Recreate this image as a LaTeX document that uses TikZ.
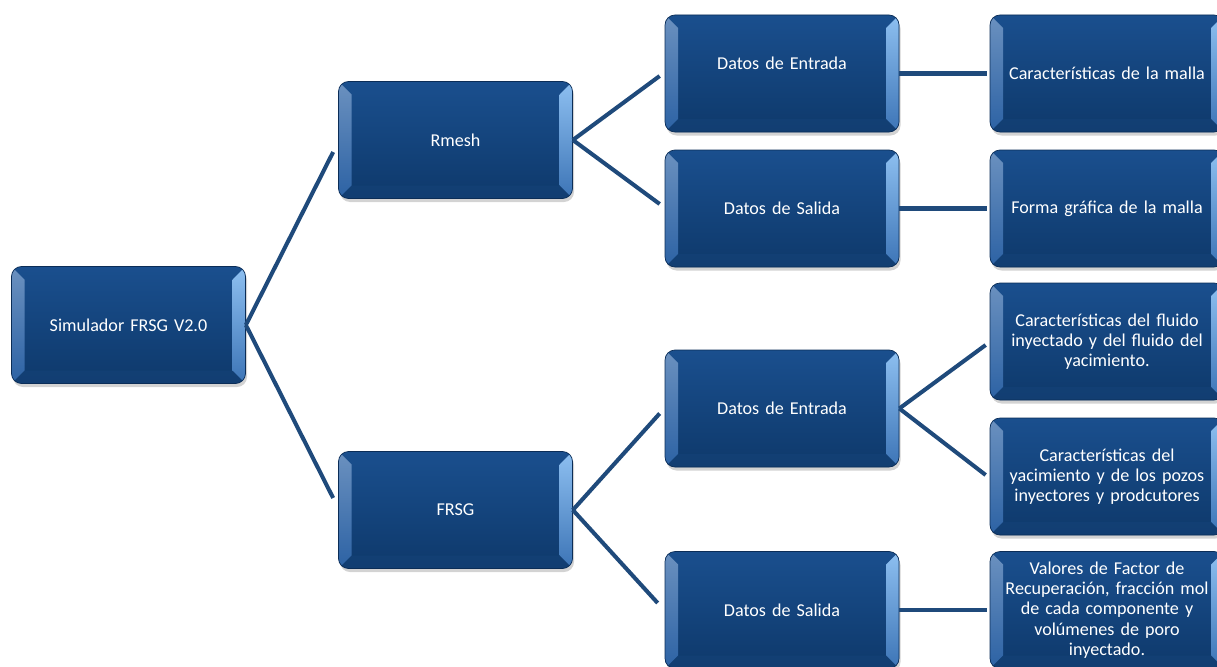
\documentclass[tikz,border=0pt]{standalone}
\usepackage{fontspec}
\setmainfont{Carlito}
\usetikzlibrary{shadows}

\definecolor{boxtop}{HTML}{1A4F8E}
\definecolor{boxbot}{HTML}{0E396B}
\definecolor{boxedge}{HTML}{0B2D57}
\definecolor{bevl}{HTML}{2C62A4}
\definecolor{bevr}{HTML}{8EC0F1}
\definecolor{bevrb}{HTML}{3C74B6}
\definecolor{linkc}{HTML}{1F4A7B}

\begin{document}
\begin{tikzpicture}[
    box/.style={rounded corners=0.2cm, draw=boxedge, line width=0.4pt,
        top color=boxtop, bottom color=boxbot,
        minimum width=4.68cm, minimum height=2.34cm, text width=4.4cm,
        align=center, text=white, font=\fontsize{10.3pt}{11.5pt}\selectfont,
        drop shadow={opacity=0.35, shadow xshift=0.03cm, shadow yshift=-0.07cm},
        path picture={
            \shade[sharp corners, top color=bevl!70!white, bottom color=bevl]
                (path picture bounding box.north west) -- ++(0.26,-0.26)
                -- ([shift={(0.26,0.26)}]path picture bounding box.south west)
                -- (path picture bounding box.south west) -- cycle;
            \shade[sharp corners, top color=bevr, bottom color=bevrb]
                (path picture bounding box.north east) -- ++(-0.26,-0.26)
                -- ([shift={(-0.26,0.26)}]path picture bounding box.south east)
                -- (path picture bounding box.south east) -- cycle;
            \fill[sharp corners, boxtop!85!black, opacity=0.5]
                ([shift={(0.26,0.26)}]path picture bounding box.south west)
                -- ([shift={(-0.26,0.26)}]path picture bounding box.south east)
                -- (path picture bounding box.south east)
                -- (path picture bounding box.south west) -- cycle;
        }},
    link/.style={draw=linkc, line width=2.3pt}]

\useasboundingbox (0,0) rectangle (24.34,-13.34);
\clip (0,0) rectangle (24.34,-13.34);

\node[box] (sim) at (2.57,-6.5) {Simulador FRSG V2.0};

\node[box] (rmesh) at (9.11,-2.8) {Rmesh};
\node[box] (frsg) at (9.11,-10.2) {FRSG};

\node[box] (entR) at (15.64,-1.47) {Datos de Entrada\\\mbox{}};
\node[box] (salR) at (15.64,-4.17) {Datos de Salida};
\node[box] (entF) at (15.64,-8.17) {Datos de Entrada};
\node[box] (salF) at (15.64,-12.2) {Datos de Salida};

\node[box] (malla) at (22.14,-1.47) {Características de la malla};
\node[box] (forma) at (22.14,-4.17) {Forma gráfica de la malla};
\node[box] (fluido) at (22.14,-6.83) {Características del fluido\\inyectado y del fluido del\\yacimiento.};
\node[box] (pozos) at (22.14,-9.53) {Características del\\yacimiento y de los pozos\\inyectores y prodcutores};
\node[box] (valores) at (22.14,-12.2) {Valores de Factor de\\Recuperación, fracción mol\\de cada componente y\\volúmenes de poro\\inyectado.};

\draw[link] (sim.east) -- ([shift={(-0.1,-0.24)}]rmesh.west);
\draw[link] (sim.east) -- ([shift={(-0.1,0.24)}]frsg.west);

\draw[link] (rmesh.east) -- ([shift={(-0.1,-0.05)}]entR.west);
\draw[link] (rmesh.east) -- ([shift={(-0.1,0.09)}]salR.west);
\draw[link] (frsg.east) -- ([shift={(-0.1,-0.1)}]entF.west);
\draw[link] (frsg.east) -- ([shift={(-0.14,0.14)}]salF.west);

\draw[link] (entR.east) -- ([xshift=-0.06cm]malla.west);
\draw[link] (salR.east) -- ([xshift=-0.06cm]forma.west);
\draw[link] (entF.east) -- ([shift={(-0.08,-0.07)}]fluido.west);
\draw[link] (entF.east) -- ([shift={(-0.08,0.03)}]pozos.west);
\draw[link] (salF.east) -- ([xshift=-0.06cm]valores.west);

\end{tikzpicture}
\end{document}
